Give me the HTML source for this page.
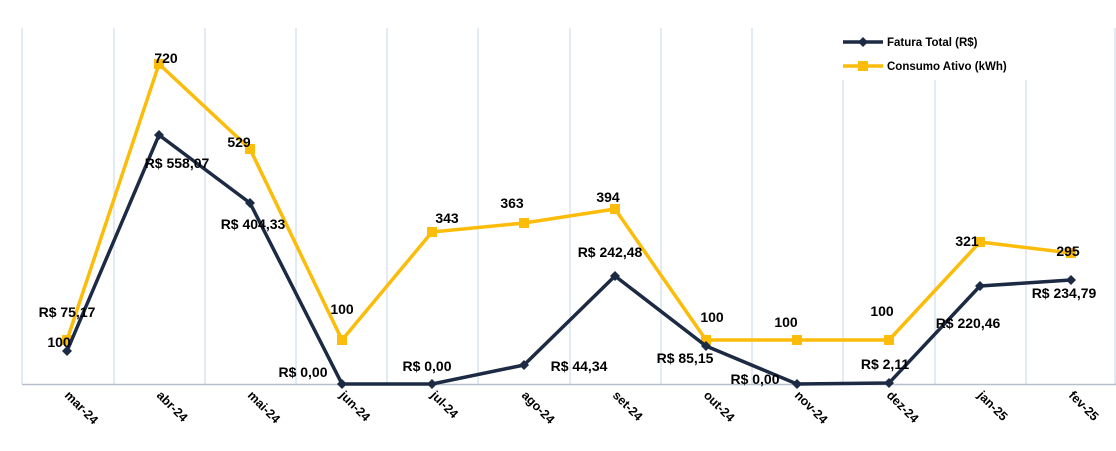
<!DOCTYPE html>
<html><head><meta charset="utf-8"><style>
html,body{margin:0;padding:0;background:#fff;}
svg text{font-family:"Liberation Sans",sans-serif;font-weight:bold;}
</style></head><body>
<svg width="1116" height="446" viewBox="0 0 1116 446" xmlns="http://www.w3.org/2000/svg">
<g stroke="#d3deed" stroke-width="1.3">
<line x1="114" y1="28" x2="114" y2="384"/><line x1="205" y1="28" x2="205" y2="384"/>
<line x1="296" y1="28" x2="296" y2="384"/><line x1="387" y1="28" x2="387" y2="384"/>
<line x1="478" y1="28" x2="478" y2="384"/><line x1="570" y1="28" x2="570" y2="384"/>
<line x1="661" y1="28" x2="661" y2="384"/><line x1="752" y1="28" x2="752" y2="384"/>
<line x1="843" y1="80" x2="843" y2="384"/><line x1="935" y1="80" x2="935" y2="384"/>
<line x1="1026" y1="80" x2="1026" y2="384"/><line x1="1115" y1="28" x2="1115" y2="384"/>
<line x1="22" y1="28" x2="22" y2="384"/>
</g>
<line x1="22" y1="384.5" x2="1116" y2="384.5" stroke="#b8bfcc" stroke-width="1.5"/>
<polyline fill="none" stroke="#fbbc0a" stroke-width="3.5" stroke-linejoin="round" points="67,340 159,64 250,149 342,340 432,232 524,223 615,209 706,340 797,340 889,340 980,242 1071,253"/>
<g fill="#fbbc0a">
<rect x="62" y="335" width="10" height="10"/><rect x="154" y="59" width="10" height="10"/><rect x="245" y="144" width="10" height="10"/><rect x="337" y="335" width="10" height="10"/><rect x="427" y="227" width="10" height="10"/><rect x="519" y="218" width="10" height="10"/><rect x="610" y="204" width="10" height="10"/><rect x="701" y="335" width="10" height="10"/><rect x="792" y="335" width="10" height="10"/><rect x="884" y="335" width="10" height="10"/><rect x="975" y="237" width="10" height="10"/><rect x="1066" y="248" width="10" height="10"/>
</g>
<polyline fill="none" stroke="#1c2a44" stroke-width="3.5" stroke-linejoin="round" points="67,351 159,135 250,203 342,384 432,384 524,365 615,276 706,346 797,384 889,383 980,286 1071,280"/>
<g fill="#1c2a44">
<path d="M67 346l5 5-5 5-5-5z"/><path d="M159 130l5 5-5 5-5-5z"/><path d="M250 198l5 5-5 5-5-5z"/><path d="M342 379l5 5-5 5-5-5z"/><path d="M432 379l5 5-5 5-5-5z"/><path d="M524 360l5 5-5 5-5-5z"/><path d="M615 271l5 5-5 5-5-5z"/><path d="M706 341l5 5-5 5-5-5z"/><path d="M797 379l5 5-5 5-5-5z"/><path d="M889 378l5 5-5 5-5-5z"/><path d="M980 281l5 5-5 5-5-5z"/><path d="M1071 275l5 5-5 5-5-5z"/>
</g>
<g font-size="14" fill="#000" text-anchor="middle">
<text x="67" y="317">R$ 75,17</text><text x="59" y="347">100</text>
<text x="166" y="63">720</text><text x="177" y="168">R$ 558,07</text>
<text x="239" y="147">529</text><text x="253" y="229">R$ 404,33</text>
<text x="342" y="314">100</text><text x="303" y="377">R$ 0,00</text>
<text x="447" y="223">343</text><text x="427" y="371">R$ 0,00</text>
<text x="512" y="208">363</text><text x="579" y="371">R$ 44,34</text>
<text x="608" y="202">394</text><text x="610" y="257">R$ 242,48</text>
<text x="712" y="322">100</text><text x="685" y="363">R$ 85,15</text>
<text x="786" y="327">100</text><text x="755" y="384">R$ 0,00</text>
<text x="882" y="316">100</text><text x="885" y="369">R$ 2,11</text>
<text x="968" y="328">R$ 220,46</text><text x="967" y="246">321</text>
<text x="1068" y="256">295</text><text x="1064" y="298">R$ 234,79</text>
</g>
<g font-size="12.5" fill="#000">
<text transform="translate(64,396) rotate(45)">mar-24</text>
<text transform="translate(156,396) rotate(45)">abr-24</text>
<text transform="translate(247,396) rotate(45)">mai-24</text>
<text transform="translate(339,396) rotate(45)">jun-24</text>
<text transform="translate(430,396) rotate(45)">jul-24</text>
<text transform="translate(521,396) rotate(45)">ago-24</text>
<text transform="translate(612,396) rotate(45)">set-24</text>
<text transform="translate(703,396) rotate(45)">out-24</text>
<text transform="translate(794,396) rotate(45)">nov-24</text>
<text transform="translate(886,396) rotate(45)">dez-24</text>
<text transform="translate(977,396) rotate(45)">jan-25</text>
<text transform="translate(1068,396) rotate(45)">fev-25</text>
</g>
<line x1="843" y1="42" x2="883" y2="42" stroke="#1c2a44" stroke-width="3.5"/>
<path d="M863 37l5 5-5 5-5-5z" fill="#1c2a44"/>
<line x1="843" y1="66" x2="883" y2="66" stroke="#fbbc0a" stroke-width="3.5"/>
<rect x="858" y="61" width="10" height="10" fill="#fbbc0a"/>
<text x="887" y="46" font-size="11.5">Fatura Total (R$)</text>
<text x="887" y="70" font-size="11.5">Consumo Ativo (kWh)</text>
</svg>
</body></html>
